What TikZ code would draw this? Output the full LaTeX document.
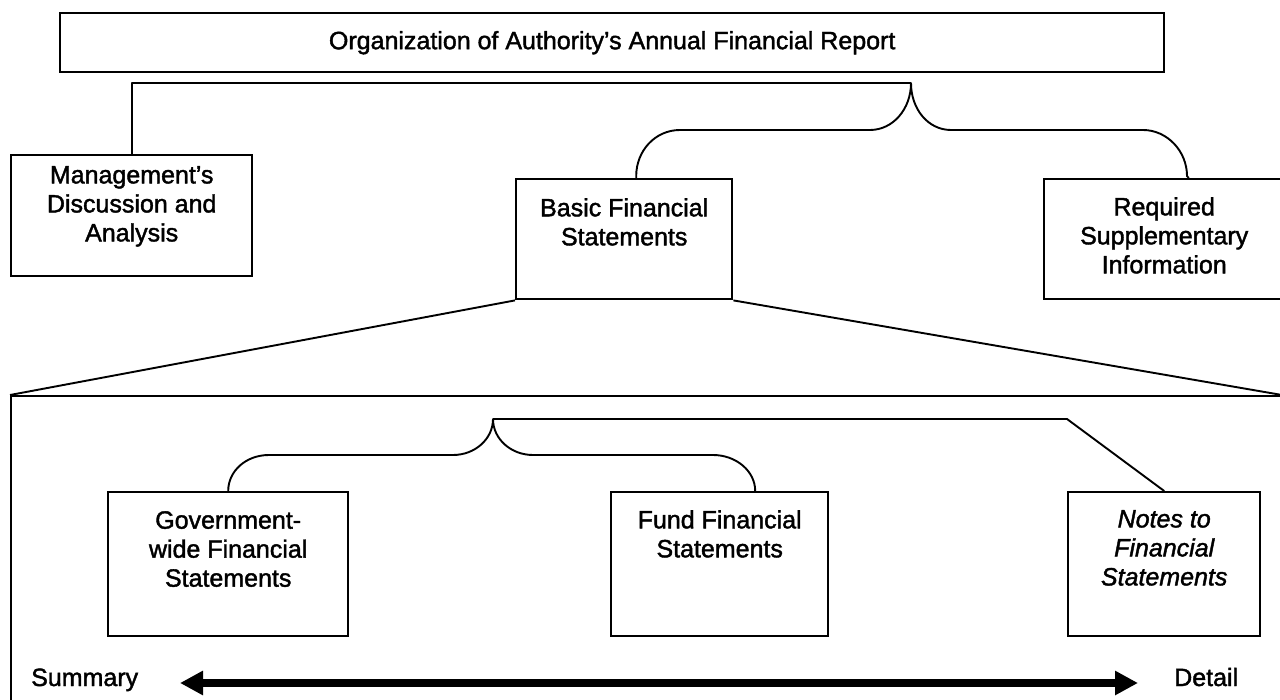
\documentclass[tikz,border=0pt]{standalone}
\usepackage{fontspec}
\setmainfont{Liberation Sans}[FakeBold=1.6]
\usetikzlibrary{arrows.meta,calc}

\begin{document}
\begin{tikzpicture}[x=1pt,y=-1pt,
  box/.style={draw,line width=2.4pt,inner sep=0pt,anchor=north west},
  link/.style={line width=1.9pt,line join=round},
  lbl/.style={font=\fontsize{25}{29}\selectfont,align=center,inner sep=0pt,anchor=north},
  endlbl/.style={font=\fontsize{25}{29}\selectfont,inner sep=0pt,anchor=base west},
  scale arrow/.style={line width=7.5pt,{Triangle[length=23pt,width=23pt]}-{Triangle[length=23pt,width=23pt]}}
]
\useasboundingbox (0,0) rectangle (1280,700);
\fill[white] (0,0) rectangle (1280,700);
\clip (0,0) rectangle (1280,700);

% top level: the report and its three parts
\node[box,minimum width=1104pt,minimum height=59pt,font=\fontsize{25}{29}\selectfont] (report) at (59,12)
  {Organization of Authority’s Annual Financial Report};
\node[box,minimum width=241pt,minimum height=121pt] (mda) at (10,154) {};
\node[box,minimum width=216pt,minimum height=120pt] (bfs) at (515,178) {};
\node[box,minimum width=240pt,minimum height=120pt] (rsi) at (1043,178) {};

\node[lbl] (mda-t) at ($(mda.north)+(0,12)$) {Management’s\\Discussion and\\Analysis};
\node[lbl] (bfs-t) at ($(bfs.north)+(0,20)$) {Basic Financial\\Statements};
\node[lbl] (rsi-t) at ($(rsi.north)+(0,19)$) {Required\\Supplementary\\Information};

% the expanded view of the basic financial statements
\node[box,minimum width=1273pt,minimum height=320pt] (detailbox) at (10,395) {};
\node[box,minimum width=240pt,minimum height=144pt] (gov) at (107,491) {};
\node[box,minimum width=217pt,minimum height=144pt] (fund) at (610,491) {};
\node[box,minimum width=192pt,minimum height=144pt] (notes) at (1067,491) {};

\node[lbl] (gov-t) at ($(gov.north)+(0,20)$) {Government-\\wide Financial\\Statements};
\node[lbl] (fund-t) at ($(fund.north)+(0,19)$) {Fund Financial\\Statements};
\node[lbl,font=\fontsize{25}{29}\selectfont\itshape] (notes-t) at ($(notes.north)+(0,19)$) {Notes to\\Financial\\Statements};

% summary-to-detail scale
\node[endlbl] (summary) at (31,686) {Summary};
\node[endlbl] (detail) at (1174,686) {Detail};
\coordinate (scale-l) at (180,683);
\coordinate (scale-r) at (1138,683);
\draw[scale arrow] (scale-l) -- (scale-r);

% connectors of the top level
\coordinate (tip) at (911,83);
\coordinate (bfs-in) at ([xshift=12pt]bfs.north);
\coordinate (rsi-in) at ([xshift=24.5pt]rsi.north);
\draw[link] (mda.north) -- (mda.north |- tip) -- (tip);
\draw[link] (bfs-in) -- ++(0,-2) .. controls +(0,-25) and +(-25,0) .. (680,130)
  -- (870,130) .. controls +(23,0) and +(0,26) .. (tip)
  .. controls +(0,26) and +(-23,0) .. (951,130)
  -- (1143,130) .. controls +(24,0) and +(0,-25) .. (1187,176) -- (rsi-in);

% opening of the basic financial statements
\draw[link] (bfs.south west) -- (detailbox.north west);
\draw[link] (bfs.south east) -- (1282,395);

% connectors inside the expanded view
\coordinate (tip2) at (493,419);
\coordinate (fund-in) at ([xshift=35.5pt]fund.north);
\draw[link] (gov.north) .. controls +(0,-20) and +(-23,0) .. (269,455)
  -- (453,455) .. controls +(22,0) and +(0,20) .. (tip2)
  .. controls +(0,20) and +(-22,0) .. (533,455)
  -- (713,455) .. controls +(23,0) and +(0,-20) .. (fund-in);
\draw[link] (tip2) -- (1067,419) -- (notes.north);
\end{tikzpicture}
\end{document}
